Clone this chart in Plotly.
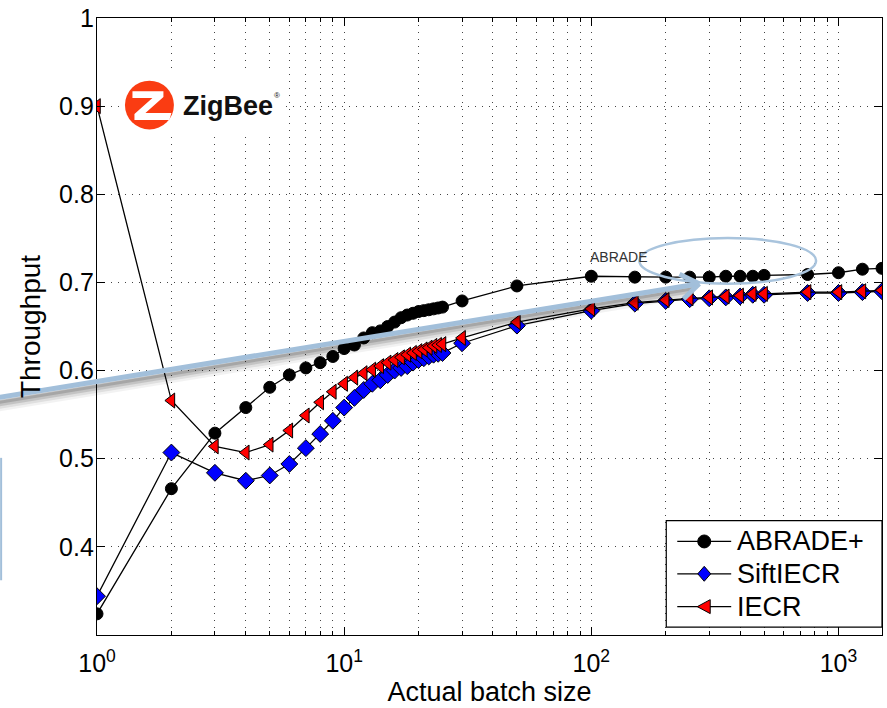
import math
import plotly.graph_objects as go

# Batch sizes tested
batch = list(range(1, 26)) + [30, 50, 100, 150, 200, 250, 300, 350, 400, 450, 500, 750, 1000, 1250, 1500]

abrade_plus = [0.324, 0.466, 0.529, 0.558, 0.581, 0.595, 0.603, 0.609, 0.616, 0.625,
               0.629, 0.637, 0.643, 0.645, 0.650, 0.655, 0.660, 0.663, 0.665, 0.667,
               0.668, 0.669, 0.670, 0.671, 0.672,
               0.679, 0.696, 0.707, 0.706, 0.706, 0.706, 0.706, 0.707, 0.707, 0.707,
               0.708, 0.709, 0.711, 0.715, 0.716]

sift_iecr = [0.344, 0.507, 0.484, 0.475, 0.481, 0.494, 0.512, 0.528, 0.543, 0.558,
             0.569, 0.578, 0.585, 0.589, 0.595, 0.600, 0.603, 0.605, 0.609, 0.612,
             0.614, 0.616, 0.618, 0.619, 0.620,
             0.631, 0.651, 0.668, 0.676, 0.679, 0.681, 0.682, 0.683, 0.684, 0.686,
             0.686, 0.688, 0.688, 0.689, 0.690]

iecr = [0.900, 0.566, 0.514, 0.507, 0.516, 0.532, 0.549, 0.564, 0.576, 0.585,
        0.592, 0.597, 0.601, 0.605, 0.609, 0.612, 0.615, 0.618, 0.620, 0.622,
        0.624, 0.626, 0.628, 0.629, 0.630,
        0.637, 0.655, 0.670, 0.677, 0.680, 0.682, 0.683, 0.684, 0.685, 0.687,
        0.687, 0.689, 0.689, 0.690, 0.691]

series_names = ["ABRADE+", "SiftIECR", "IECR"]
series_colors = ["black", "#0000ff", "#ff0000"]
series_symbols = ["circle", "diamond", "triangle-left"]

x_major = [1, 10, 100, 1000]
x_major_text = ["10<sup>0</sup>", "10<sup>1</sup>", "10<sup>2</sup>", "10<sup>3</sup>"]
x_minor = [m * d for d in (1, 10, 100) for m in range(2, 10)] + [1000 * m for m in (2, 3)]
y_ticks = [0.4, 0.5, 0.6, 0.7, 0.8, 0.9, 1.0]
y_tick_text = ["0.4", "0.5", "0.6", "0.7", "0.8", "0.9", "1"]

W, H = 887, 708
ML, MR, MT, MB = 97, 4, 15, 73
PW, PH = W - ML - MR, H - MT - MB


def px(xp, yp):
    """Convert page pixel position to paper coordinates."""
    return (xp - ML) / PW, (H - MB - yp) / PH


def poly_path(points):
    out = ""
    for i, (xp, yp) in enumerate(points):
        qx, qy = px(xp, yp)
        out += ("M" if i == 0 else "L") + f"{qx:.5f},{qy:.5f} "
    return out + "Z"


FONT = "Liberation Sans"

fig = go.Figure()
for name, vals, col, sym in zip(series_names, [abrade_plus, sift_iecr, iecr], series_colors, series_symbols):
    size = 12 if sym == "circle" else 13
    fig.add_trace(go.Scatter(
        x=batch, y=vals, name=name, mode="lines+markers",
        line=dict(color="black", width=1.3),
        marker=dict(symbol=sym, size=size, color=col, line=dict(color="black", width=1)),
        showlegend=False,
    ))

grid = dict(gridcolor="#444", gridwidth=1, griddash="1px,6px")

fig.update_xaxes(
    type="log", range=[0, math.log10(1500)],
    tickmode="array", tickvals=x_major, ticktext=x_major_text,
    ticks="inside", ticklen=8, tickcolor="black",
    showline=True, linecolor="black", linewidth=1.3, mirror="allticks",
    showgrid=True, **grid,
    minor=dict(tickvals=x_minor, ticks="inside", ticklen=4, tickcolor="black",
               showgrid=True, **grid),
    tickfont=dict(family=FONT, size=25, color="black"),
    ticklabelstandoff=6,
    title=dict(text="Actual batch size", font=dict(family=FONT, size=27, color="black"), standoff=0),
    zeroline=False,
)
fig.update_yaxes(
    range=[0.3, 1.0], tickmode="array", tickvals=y_ticks, ticktext=y_tick_text,
    ticks="inside", ticklen=8, tickcolor="black",
    showline=True, linecolor="black", linewidth=1.3, mirror="allticks",
    showgrid=True, **grid,
    tickfont=dict(family=FONT, size=25, color="black"),
    ticklabelstandoff=-3,
    title=dict(text="Throughput", font=dict(family=FONT, size=28, color="black"), standoff=10),
    zeroline=False,
)

shapes = []
annotations = []

# ZigBee logo block
bx0, by0 = px(122, 132)
bx1, by1 = px(286, 70)
shapes.append(dict(type="rect", xref="paper", yref="paper", x0=bx0, y0=by0, x1=bx1, y1=by1,
                   fillcolor="white", line=dict(width=0), layer="above"))
cx, cy = 149.5, 102.5
c0 = px(cx - 24.5, cy + 24.5)
c1 = px(cx + 24.5, cy - 24.5)
shapes.append(dict(type="circle", xref="paper", yref="paper", x0=c0[0], y0=c0[1], x1=c1[0], y1=c1[1],
                   fillcolor="#fa3c12", line=dict(width=0), layer="above"))
z_pts = [(-17, -14), (14, -14), (14, -8), (-4, 8), (22, 8), (20, 15), (-15, 15), (-15, 9), (3, -7), (-17, -7)]
shapes.append(dict(type="path", xref="paper", yref="paper",
                   path=poly_path([(cx + dx, cy + dy) for dx, dy in z_pts]),
                   fillcolor="white", line=dict(width=0), layer="above"))
lx, ly = px(181, 103)
annotations.append(dict(xref="paper", yref="paper", x=lx, y=ly, xanchor="left", yanchor="middle",
                        text="<b>ZigBee</b>", showarrow=False,
                        font=dict(family="Liberation Sans", size=27, color="#111")))
rx, ry = px(277, 93)
annotations.append(dict(xref="paper", yref="paper", x=rx, y=ry, xanchor="center", yanchor="middle",
                        text="®", showarrow=False,
                        font=dict(family="Liberation Sans", size=8, color="#111")))

# Highlight ellipse and label
e0 = px(640, 282)
e1 = px(817, 236)
shapes.append(dict(type="circle", xref="paper", yref="paper", x0=e0[0], y0=e0[1], x1=e1[0], y1=e1[1],
                   line=dict(color="#a9c4dd", width=2.5), layer="above"))
tx, ty = px(620, 255)
annotations.append(dict(xref="paper", yref="paper", x=tx, y=ty, xanchor="center", yanchor="middle",
                        text="ABRADE", showarrow=False,
                        font=dict(family="Liberation Sans", size=14, color="#333")))

# Pointer arrow with a soft drop shadow
tail = (-6, 397)
tip = (700, 282)
for off, wd, op in ((8, 12, 0.05), (7, 9, 0.08), (6, 6, 0.12), (5, 3, 0.15)):
    a = px(tail[0], tail[1] + off)
    b = px(tip[0] - 6, tip[1] + off)
    shapes.append(dict(type="line", xref="paper", yref="paper", x0=a[0], y0=a[1], x1=b[0], y1=b[1],
                       line=dict(color=f"rgba(0,0,0,{op})", width=wd), layer="above"))
a = px(*tail)
b = px(*tip)
arrow_col = "#a2bfda"
shapes.append(dict(type="line", xref="paper", yref="paper", x0=a[0], y0=a[1], x1=b[0], y1=b[1],
                   line=dict(color=arrow_col, width=5), layer="above"))
dx, dy = tip[0] - tail[0], tip[1] - tail[1]
n = math.hypot(dx, dy)
ux, uy = -dx / n, -dy / n
for ang in (35, -35):
    t = math.radians(ang)
    vx = ux * math.cos(t) - uy * math.sin(t)
    vy = ux * math.sin(t) + uy * math.cos(t)
    e = px(tip[0] + 22 * vx, tip[1] + 22 * vy)
    shapes.append(dict(type="line", xref="paper", yref="paper", x0=b[0], y0=b[1], x1=e[0], y1=e[1],
                       line=dict(color=arrow_col, width=5), layer="above"))

# Edge mark on the left
v0 = px(1, 457)
v1 = px(1, 580)
shapes.append(dict(type="line", xref="paper", yref="paper", x0=v0[0], y0=v0[1], x1=v1[0], y1=v1[1],
                   line=dict(color="#a2bfda", width=2), layer="above"))

# Legend box drawn in page space
LB = (667, 520, 883, 627)
p0 = px(LB[0], LB[3])
p1 = px(LB[2], LB[1])
shapes.append(dict(type="rect", xref="paper", yref="paper", x0=p0[0], y0=p0[1], x1=p1[0], y1=p1[1],
                   fillcolor="white", line=dict(color="black", width=1.2), layer="above"))
row_y = [541, 573.5, 606.5]
line_x0, line_x1, mk_x, text_x = 678, 732, 705, 736
for name, col, sym, ry_ in zip(series_names, series_colors, series_symbols, row_y):
    q0 = px(line_x0, ry_)
    q1 = px(line_x1, ry_)
    shapes.append(dict(type="line", xref="paper", yref="paper", x0=q0[0], y0=q0[1], x1=q1[0], y1=q1[1],
                       line=dict(color="black", width=1.3), layer="above"))
    if sym == "circle":
        m0 = px(mk_x - 6.5, ry_ + 6.5)
        m1 = px(mk_x + 6.5, ry_ - 6.5)
        shapes.append(dict(type="circle", xref="paper", yref="paper", x0=m0[0], y0=m0[1], x1=m1[0], y1=m1[1],
                           fillcolor=col, line=dict(color="black", width=1), layer="above"))
    elif sym == "diamond":
        pts = [(mk_x, ry_ - 7.5), (mk_x + 6.5, ry_), (mk_x, ry_ + 7.5), (mk_x - 6.5, ry_)]
        shapes.append(dict(type="path", xref="paper", yref="paper", path=poly_path(pts),
                           fillcolor=col, line=dict(color="black", width=1), layer="above"))
    else:
        pts = [(mk_x - 7, ry_), (mk_x + 6, ry_ - 7), (mk_x + 6, ry_ + 7)]
        shapes.append(dict(type="path", xref="paper", yref="paper", path=poly_path(pts),
                           fillcolor=col, line=dict(color="black", width=1), layer="above"))
    tpos = px(text_x, ry_)
    annotations.append(dict(xref="paper", yref="paper", x=tpos[0], y=tpos[1],
                            xanchor="left", yanchor="middle", text=name, showarrow=False,
                            font=dict(family=FONT, size=27, color="black")))

fig.update_layout(
    width=W, height=H,
    margin=dict(l=ML, r=MR, t=MT, b=MB),
    paper_bgcolor="white", plot_bgcolor="white",
    shapes=shapes, annotations=annotations,
    showlegend=False,
    font=dict(family=FONT),
)

fig.write_html("out.html")
